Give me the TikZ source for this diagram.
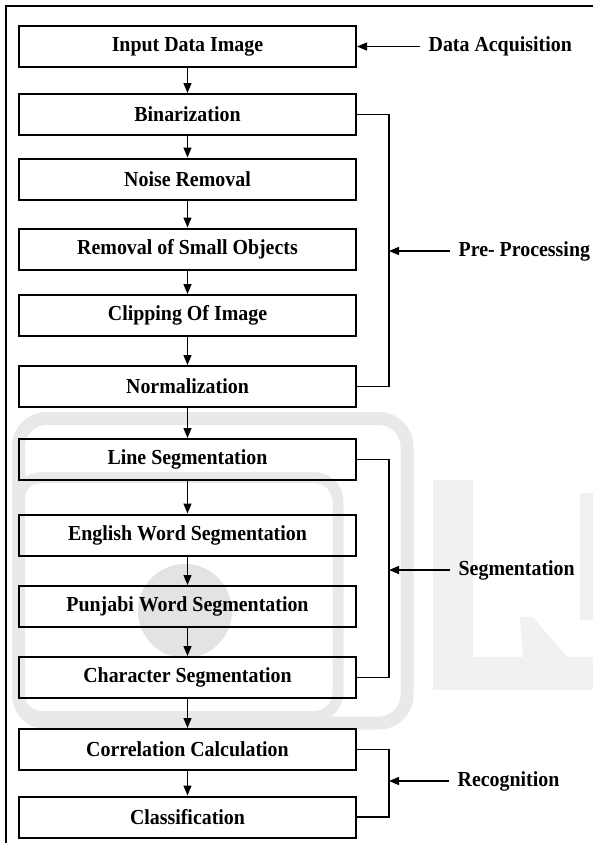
\documentclass[tikz,border=0pt]{standalone}
\usepackage{fontspec}
\setmainfont{Liberation Serif}[FakeStretch=0.93]
\usetikzlibrary{arrows.meta, positioning}

\begin{document}
\begin{tikzpicture}[
    x=0.5pt, y=-0.5pt, % one unit is one pixel of the page, y runs down
    % Define stage style
    stage/.style={
        draw, % Draw border
        rectangle, % Rectangle shape
        line width=1pt, % Border thickness
        minimum width=168.5pt, % Box width
        minimum height=20.5pt, % Box height
        inner sep=0pt,
        font=\fontsize{10.7}{12}\bfseries, % Bold text
        align=center % Center alignment
      },
    % Define phase label style
    phase/.style={
        anchor=west, % Arrow starts at the left side
        inner sep=4pt,
        font=\fontsize{10.7}{12}\bfseries
      },
    % Define faint background shape style
    wmark/.style={
        draw=gray!17, % Light gray band
        rounded corners=14pt
      },
    >={Triangle[length=5pt, width=4pt]}, % Arrow type
    line width=0.65pt % Line thickness
  ]

  \useasboundingbox (0,0) rectangle (593,843);

  % Faint background shapes
  \draw[wmark, line width=6.5pt] (18.5,418.5) rectangle (407,723);
  \draw[wmark, line width=5.5pt, rounded corners=12pt] (18,477.5) rectangle (338,716.5);
  \fill[gray!22] (185,611) circle[radius=47];
  \fill[gray!11] (433,480) rectangle (473,690);
  \fill[gray!11] (433,657) rectangle (593,690);
  \fill[gray!11] (580,493) rectangle (593,620);
  \fill[gray!11] (520,617) -- (533,617) -- (567,657) -- (523,657) -- cycle;

  % Frame
  \draw[line width=1pt] (6,843) -- (6,6) -- (593,6);

  % Define nodes
  \node[stage] (Input) at (187.5, 46.5) {Input Data Image};
  \node[stage] (Binarization) at (187.5, 114.5) {Binarization};
  \node[stage] (Noise) at (187.5, 179) {Noise Removal};
  \node[stage] (Small) at (187.5, 249) {Removal of Small Objects};
  \node[stage] (Clipping) at (187.5, 315.5) {Clipping Of Image};
  \node[stage] (Normal) at (187.5, 386.5) {Normalization};
  \node[stage] (Line) at (187.5, 459.5) {Line Segmentation};
  \node[stage] (English) at (187.5, 535) {English Word Segmentation};
  \node[stage] (Punjabi) at (187.5, 606.5) {Punjabi Word Segmentation};
  \node[stage] (Character) at (187.5, 677.5) {Character Segmentation};
  \node[stage] (Correlation) at (187.5, 749.5) {Correlation Calculation};
  \node[stage] (Classification) at (187.5, 817) {Classification};

  % Phase labels on the right
  \node[phase] (Acquisition) at (420, 46.5) {Data Acquisition};
  \node[phase] (PreProc) at (450, 251) {Pre- Processing};
  \node[phase] (Segment) at (450, 570) {Segmentation};
  \node[phase] (Recog) at (449, 781) {Recognition};

  % Draw arrows down the chain
  \foreach \a/\b in {Input/Binarization, Binarization/Noise, Noise/Small,
      Small/Clipping, Clipping/Normal, Normal/Line, Line/English,
      English/Punjabi, Punjabi/Character, Character/Correlation,
      Correlation/Classification}
    \draw[->] (\a) -- (\b);

  % Brackets grouping the stages
  \draw (Binarization.east) -- ++(32,0) coordinate (PreBar) |- (Normal.east);
  \draw (Line.east) -- ++(32,0) coordinate (SegBar) |- (Character.east);
  \draw (Correlation.east) -- ++(32,0) coordinate (RecBar) |- (Classification.east);

  % Arrows from the phase labels
  \draw[->] (Acquisition.west) -- (Input.east);
  \draw[->] (PreProc.west) -- (PreProc.west -| PreBar);
  \draw[->] (Segment.west) -- (Segment.west -| SegBar);
  \draw[->] (Recog.west) -- (Recog.west -| RecBar);

\end{tikzpicture}
\end{document}
